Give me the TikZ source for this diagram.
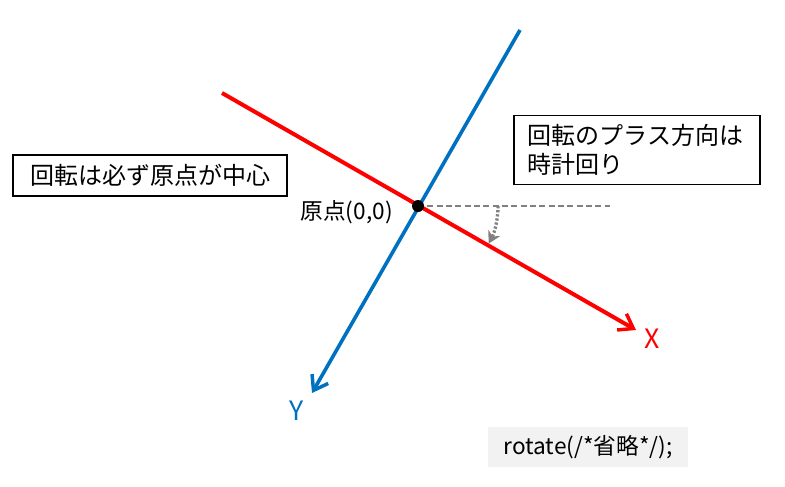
\documentclass[tikz,border=0pt]{standalone}
\usepackage{fontspec}
\setmainfont{Noto Sans CJK JP}
\usetikzlibrary{arrows.meta}
\definecolor{axblue}{HTML}{0070C0}
\definecolor{axred}{HTML}{FF0000}
\definecolor{codebg}{HTML}{F2F2F2}
\definecolor{guide}{HTML}{808080}
\tikzset{
  note/.style={draw=black, line width=0.9pt, inner sep=0pt},
  barb/.style={-{Straight Barb[length=10pt,width=14pt,line width=2.6pt]}},
}
\begin{document}
\begin{tikzpicture}[x=0.75pt,y=-0.75pt]
\useasboundingbox (0,0) rectangle (785,486);
% axes
\coordinate (O) at (418,206);
\coordinate (Rs) at (222,93);
\coordinate (Xt) at (636,330);
\coordinate (Bs) at (520,30);
\coordinate (Yt) at (312,393);
\coordinate (G) at (610,206);
\draw[guide, line width=1.3pt, dash pattern=on 4.5pt off 2.5pt] (O) -- (G);
\draw[axred, line width=3pt, barb] (Rs) -- (Xt);
\draw[axblue, line width=2.7pt, barb] (Bs) -- (Yt);
\draw[guide, line width=2.5pt, dash pattern=on 1.7pt off 1.4pt, -{Stealth[length=9pt,width=10pt]}]
  (O) ++(80,0) arc[start angle=0, end angle=28, radius=80];
\node[circle, fill=black, minimum size=9pt, inner sep=0pt] (Odot) at (O) {};
% labels
\node[anchor=east, font=\fontsize{17}{19}\selectfont, inner sep=0pt] (olabel) at (393,212) {原点(0,0)};
\node[axred, font=\fontsize{20}{22}\selectfont, inner sep=0pt] (xlabel) at (652,339) {X};
\node[axblue, font=\fontsize{20}{22}\selectfont, inner sep=0pt] (ylabel) at (297,411) {Y};
% notes
\node[note, minimum width=205.5pt, minimum height=30.75pt, font=\fontsize{18}{20}\selectfont] (n1) at (150,175.5) {回転は必ず原点が中心};
\node[note, minimum width=184.5pt, minimum height=51.75pt, text width=164pt, align=left,
      font=\fontsize{18}{21.75}\selectfont] (n2) at (637,150) {回転のプラス方向は\\時計回り};
\node[fill=codebg, minimum width=150pt, minimum height=30pt, inner sep=0pt,
      font=\fontsize{17}{19}\selectfont] (code) at (588,447) {rotate(/*省略*/);};
\end{tikzpicture}
\end{document}
